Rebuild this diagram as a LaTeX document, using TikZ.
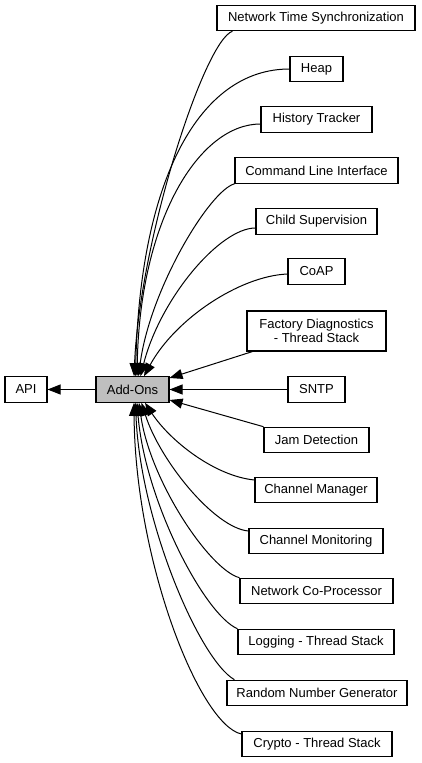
\documentclass[tikz,border=0pt]{standalone}
\usepackage{fontspec}
\setmainfont{Liberation Sans}
\usetikzlibrary{arrows.meta}
\begin{document}
\begin{tikzpicture}[x=1pt,y=-1pt,
  box/.style={draw=black, line width=1.1pt, fill=white, rectangle, inner sep=0pt,
    minimum height=25.5pt, font=\fontsize{13}{14}\selectfont, text=black},
  cur/.style={fill=black!25},
  edge/.style={draw=black, line width=1pt, -{Triangle[length=13pt,width=10pt]}}]
\useasboundingbox (0,0) rectangle (421,763);

\node[box, minimum width=42pt] (api) at (26,389.5) {API};
\node[box, cur, minimum width=73pt] (addons) at (132.5,389.5) {Add-Ons};

\node[box, minimum width=198pt] (nts) at (316,18) {Network Time Synchronization};
\node[box, minimum width=53pt] (heap) at (316.5,69) {Heap};
\node[box, minimum width=111pt] (hist) at (316.5,119.5) {History Tracker};
\node[box, minimum width=163pt] (cli) at (316.5,170.5) {Command Line Interface};
\node[box, minimum width=121pt] (child) at (316.5,221.5) {Child Supervision};
\node[box, minimum width=57pt] (coap) at (316.5,271.5) {CoAP};
\node[box, minimum width=139pt, minimum height=40pt, align=center] (factory) at (316.5,331) {Factory Diagnostics\\- Thread Stack};
\node[box, minimum width=57pt] (sntp) at (316.5,389.5) {SNTP};
\node[box, minimum width=105pt] (jam) at (316.5,440) {Jam Detection};
\node[box, minimum width=122pt] (chmgr) at (316,490) {Channel Manager};
\node[box, minimum width=134pt] (chmon) at (316,541) {Channel Monitoring};
\node[box, minimum width=153pt] (ncp) at (316.5,591) {Network Co-Processor};
\node[box, minimum width=156pt] (log) at (316,642) {Logging - Thread Stack};
\node[box, minimum width=180pt] (rng) at (317,693) {Random Number Generator};
\node[box, minimum width=150pt] (crypto) at (317,744) {Crypto - Thread Stack};

\draw[edge] (addons.west) -- (api.east);

% upper group
\draw[edge] ([xshift=16pt]nts.south west) .. controls +(-28,9) and +(6,-137) .. ([xshift=1.5pt]addons.north);
\draw[edge] (heap.west) .. controls +(-90,0) and +(4.5,-197) .. ([xshift=3pt]addons.north);
\draw[edge] ([yshift=-4.5pt]hist.west) .. controls +(-61,0) and +(3,-157) .. ([xshift=4.5pt]addons.north);
\draw[edge] (cli.south west) .. controls +(-25,7) and +(11.5,-87) .. ([xshift=6pt]addons.north);
\draw[edge] ([yshift=-6.5pt]child.west) .. controls +(-36,0) and +(19.5,-77) .. ([xshift=8pt]addons.north);
\draw[edge] ([yshift=-2.5pt]coap.west) .. controls +(-48,2) and +(31,-57) .. ([xshift=11.5pt]addons.north);

% right side
\draw[edge] ([xshift=6pt]factory.south west) -- ([yshift=11.5pt]addons.east);
\draw[edge] (sntp.west) -- (addons.east);
\draw[edge] (jam.north west) -- ([yshift=-10.5pt]addons.east);

% lower group
\draw[edge] ([yshift=10pt]chmgr.west) .. controls +(-40,-4) and +(25,38) .. ([xshift=12.5pt]addons.south);
\draw[edge] ([yshift=10pt]chmon.west) .. controls +(-34,-3) and +(18.5,58) .. ([xshift=9pt]addons.south);
\draw[edge] (ncp.north west) .. controls +(-30,-8) and +(11,78) .. ([xshift=6.5pt]addons.south);
\draw[edge] (log.north west) .. controls +(-33,-14) and +(8,98) .. ([xshift=4.5pt]addons.south);
\draw[edge] ([xshift=8pt]rng.north west) .. controls +(-35,-20) and +(4.5,118) .. ([xshift=3pt]addons.south);
\draw[edge] ([yshift=10pt]crypto.west) .. controls +(-42,-9) and +(1,158) .. ([xshift=1.5pt]addons.south);
\end{tikzpicture}
\end{document}
